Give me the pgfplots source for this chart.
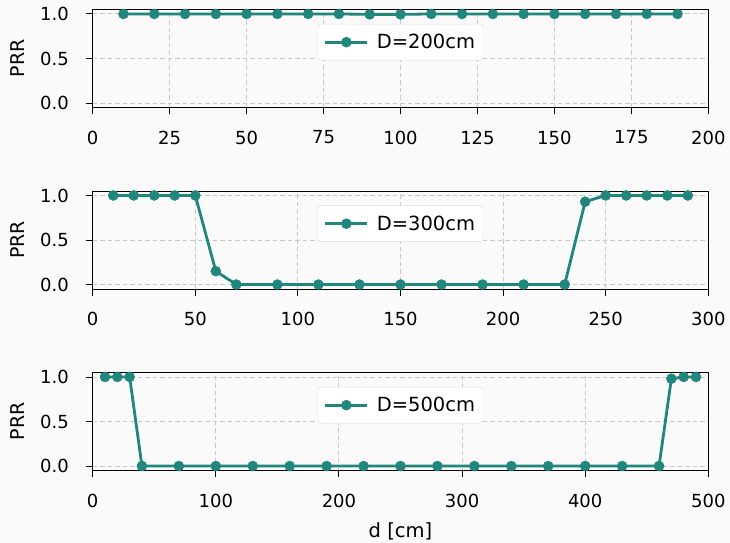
\documentclass[border=0pt]{standalone}
\usepackage{fontspec}
\setmainfont{DejaVu Sans}
\usepackage{pgfplots}
\pgfplotsset{compat=1.18}
\definecolor{teal1}{RGB}{33,134,124}
\definecolor{bgc}{RGB}{250,250,250}
\definecolor{gridc}{RGB}{200,200,200}
\definecolor{legc}{RGB}{220,220,220}
\tikzset{myline/.style={color=teal1, line width=2.8bp, mark=*, mark size=5bp, mark options={fill=teal1, draw=teal1, line width=0.5bp}}}
\pgfplotsset{
  prr/.style={
    scale only axis, width=615.6bp, height=98bp,
    ymin=-0.05, ymax=1.05, ytick={0,0.5,1},
    xmin=0,
    axis background/.style={fill=bgc},
    axis line style={line width=0.9bp, black},
    tick align=outside, tick pos=left,
    major tick length=7bp,
    every tick/.style={line width=0.9bp, black},
    grid=major,
    major grid style={line width=0.9bp, gridc, dash pattern=on 4.5bp off 3bp},
    /pgf/number format/assume math mode=true,
    tick label style={font=\fontsize{18bp}{22bp}\selectfont},
    xticklabel style={inner sep=0pt, anchor=north, yshift=-16bp},
    yticklabel style={inner sep=0pt, anchor=east, xshift=-16.7bp,
      /pgf/number format/.cd, fixed, fixed zerofill, precision=1},
    ylabel={PRR},
    ylabel style={font=\fontsize{19bp}{23bp}\selectfont, at={(axis description cs:-0.1222,0.5)}, anchor=center},
    legend style={at={(0.5,1)}, anchor=north, yshift=-14.5bp, draw=legc, fill=white, rounded corners=3bp,
      font=\fontsize{19.5bp}{23bp}\selectfont, inner xsep=6bp, inner ysep=8bp,
      /tikz/every even column/.style={column sep=3bp},
      /tikz/every odd column/.style={column sep=6bp}},
    legend image code/.code={\draw[mark repeat=2, mark phase=2] plot coordinates {(0bp,0bp) (21bp,0bp) (42bp,0bp)};},
  }
}
\begin{document}
\begin{tikzpicture}
\fill[bgc] (0,0) rectangle (730bp,543bp);
\begin{axis}[prr, at={(92.7bp,435.5bp)}, anchor=south west, xmax=200, xtick={0,25,...,200}]
\addplot[myline] coordinates {(10,1) (20,1) (30,1) (40,1) (50,1) (60,1) (70,1) (80,1) (90,0.995) (100,0.995) (110,1) (120,1) (130,1) (140,1) (150,1) (160,1) (170,1) (180,1) (190,1)};
\addlegendentry{D=200cm}
\end{axis}
\begin{axis}[prr, at={(92.7bp,254bp)}, anchor=south west, xmax=300, xtick={0,50,...,300}]
\addplot[myline] coordinates {(10,1) (20,1) (30,1) (40,1) (50,1) (60,0.15) (70,0) (90,0) (110,0) (130,0) (150,0) (170,0) (190,0) (210,0) (230,0) (240,0.93) (250,1) (260,1) (270,1) (280,1) (290,1)};
\addlegendentry{D=300cm}
\end{axis}
\begin{axis}[prr, at={(92.7bp,72.5bp)}, anchor=south west, xmax=500, xtick={0,100,...,500},
  xlabel={d [cm]},
  xlabel style={font=\fontsize{19.5bp}{23bp}\selectfont, at={(axis description cs:0.5,0)}, anchor=base, yshift=-66.5bp}]
\addplot[myline] coordinates {(10,1) (20,1) (30,1) (40,0) (70,0) (100,0) (130,0) (160,0) (190,0) (220,0) (250,0) (280,0) (310,0) (340,0) (370,0) (400,0) (430,0) (460,0) (470,0.98) (480,1) (490,1)};
\addlegendentry{D=500cm}
\end{axis}
\pgfresetboundingbox
\path (0,0) rectangle (730bp,543bp);
\end{tikzpicture}
\end{document}
